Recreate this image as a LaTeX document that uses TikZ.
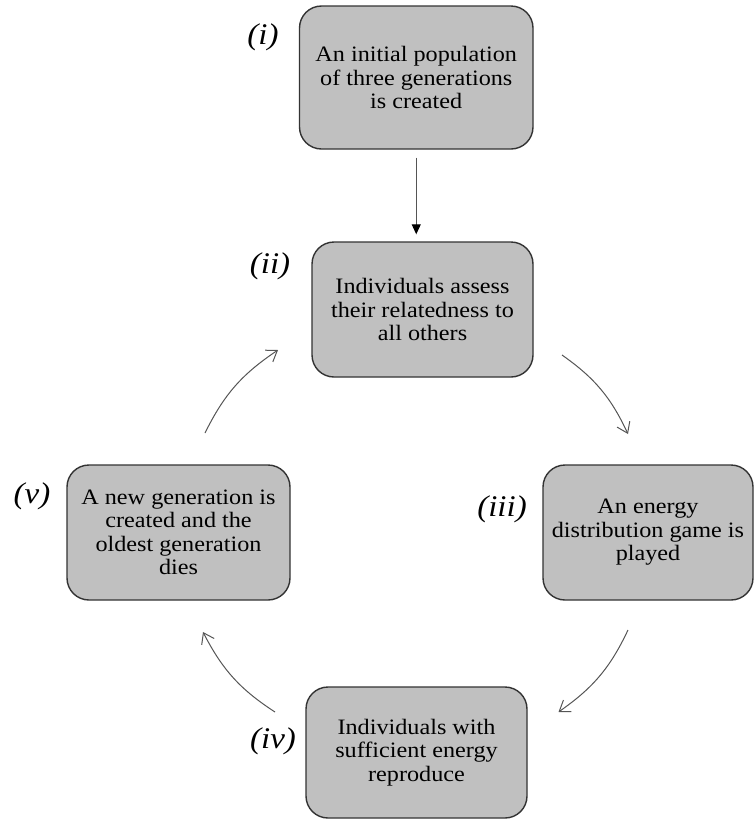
\documentclass[tikz,border=0pt]{standalone}
\usepackage{fontspec}
\setmainfont{Liberation Serif}[FakeStretch=1.1]
\usetikzlibrary{arrows.meta,bending}
\definecolor{boxfill}{RGB}{192,192,192}
\definecolor{boxline}{RGB}{51,51,51}
\definecolor{arrowgray}{RGB}{85,85,85}
\begin{document}
\begin{tikzpicture}[x=1pt,y=1pt,
  stagebox/.style={draw=boxline, line width=1.4pt, fill=boxfill, rounded corners=22pt,
    inner sep=0pt, align=center, font=\fontsize{22}{23.5}\selectfont},
  steplabel/.style={inner sep=0pt, font=\fontsize{30}{30}\selectfont\itshape},
  cyclearrow/.style={draw=arrowgray, line width=1pt,
    -{Straight Barb[length=10pt,width=14pt]}, bend left=15},
  downarrow/.style={draw=arrowgray, line width=1pt,
    -{Triangle[length=10pt,width=9pt,fill=black,color=black]}},
]
\useasboundingbox (0,0) rectangle (755,-820);

% stages
\node[stagebox, minimum width=233.5pt, minimum height=143pt] (s1) at (416.25,-77.5)
  {An initial population\\of three generations\\is created};
\node[stagebox, minimum width=221pt, minimum height=135pt] (s2) at (422.5,-309.5)
  {Individuals assess\\their relatedness to\\all others};
\node[stagebox, minimum width=210pt, minimum height=135pt] (s3) at (648,-532.5)
  {An energy\\distribution game is\\played};
\node[stagebox, minimum width=221pt, minimum height=131pt] (s4) at (416.5,-752.5)
  {Individuals with\\sufficient energy\\reproduce};
\node[stagebox, minimum width=223pt, minimum height=135pt] (s5) at (178.5,-532.5)
  {A new generation is\\created and the\\oldest generation\\dies};

% labels
\node[steplabel] (l1) at (263,-37) {(i)};
\node[steplabel] (l2) at (270,-266) {(ii)};
\node[steplabel] (l3) at (502,-509) {(iii)};
\node[steplabel] (l4) at (273,-741) {(iv)};
\node[steplabel] (l5) at (32,-496) {(v)};

% connectors
\draw[downarrow, shorten <=8pt, shorten >=7pt] (s1.south) -- (s1.south |- s2.north);

\coordinate (c2s) at (562,-355);   \coordinate (c2e) at (628,-434);
\coordinate (c3s) at (628,-630);   \coordinate (c3e) at (558.5,-712);
\coordinate (c4s) at (275,-712);   \coordinate (c4e) at (203,-632);
\coordinate (c5s) at (205,-433);   \coordinate (c5e) at (278,-350);

\draw[cyclearrow] (c2s) to (c2e);
\draw[cyclearrow] (c3s) to (c3e);
\draw[cyclearrow] (c4s) to (c4e);
\draw[cyclearrow] (c5s) to (c5e);
\end{tikzpicture}
\end{document}
